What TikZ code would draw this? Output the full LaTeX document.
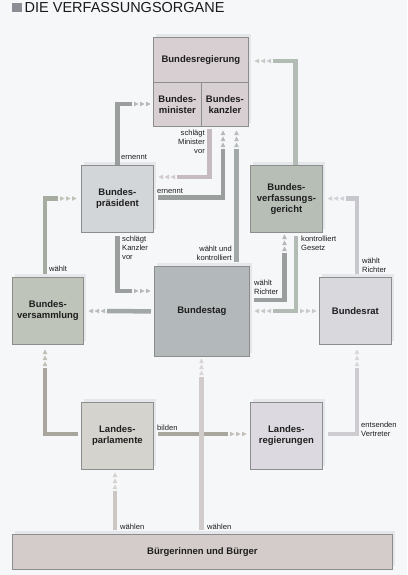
\documentclass[tikz,border=0pt]{standalone}
\usepackage{fontspec}
\setmainfont{Liberation Sans}
\usetikzlibrary{shadows,calc}
\definecolor{bgc}{HTML}{F6F7F9}
\definecolor{shadowc}{HTML}{E6E7EA}
\definecolor{boxline}{HTML}{8C8E8E}
\definecolor{txt}{HTML}{1E1E1E}
\definecolor{titlec}{HTML}{1A1A1A}
\definecolor{sqc}{HTML}{8D8D95}
\definecolor{creg}{HTML}{D8CFD3}
\definecolor{cbp}{HTML}{D3D6D8}
\definecolor{cbvg}{HTML}{B6BEB6}
\definecolor{cbv}{HTML}{BEC4B9}
\definecolor{cbt}{HTML}{B3B8BA}
\definecolor{cbr}{HTML}{D8D8DD}
\definecolor{clp}{HTML}{D5D3CD}
\definecolor{clr}{HTML}{DCDAE0}
\definecolor{cbu}{HTML}{D4CCCB}
\definecolor{cdark}{HTML}{9A9F9E}
\definecolor{tdark}{HTML}{B4B9B8}
\definecolor{cmid}{HTML}{A2A8A8}
\definecolor{tmid}{HTML}{B9BDBD}
\definecolor{cgreen}{HTML}{B3BBB5}
\definecolor{tgreen}{HTML}{C5CBC6}
\definecolor{cpink}{HTML}{C6BBC0}
\definecolor{tpink}{HTML}{D2CACE}
\definecolor{colive}{HTML}{A6AC9F}
\definecolor{tolive}{HTML}{BEC3B9}
\definecolor{cbrown}{HTML}{A9A69D}
\definecolor{tbrown}{HTML}{C2BFB8}
\definecolor{clav}{HTML}{C8C7CE}
\definecolor{tlav}{HTML}{D3D2D8}
\definecolor{clavb}{HTML}{CFCCD1}
\definecolor{tlavb}{HTML}{D8D6DA}
\definecolor{cwarm}{HTML}{CCC7C4}
\definecolor{twarm}{HTML}{D6D2CF}
\definecolor{cwarmb}{HTML}{D1CBCC}
\definecolor{twarmb}{HTML}{D9D4D5}
\tikzset{
  pics/tri/.style={code={\foreach \i in {0,1,2}{\fill[#1] (\i*6,-2.3) -- (\i*6+4.5,0) -- (\i*6,2.3) -- cycle;}}},
  box/.style={draw=boxline, line width=0.8pt, inner sep=1pt, align=center, anchor=north west, text=txt,
    font=\bfseries\fontsize{9.5}{11}\selectfont},
  shadowed/.style={general shadow={fill=shadowc, shadow xshift=3pt, shadow yshift=3pt}},
  bar/.style={line width=4.5pt, line cap=butt, line join=miter},
  lab/.style={font=\fontsize{7.6}{9}\selectfont, inner sep=0pt, text=txt}
}
\begin{document}
\begin{tikzpicture}[x=1pt,y=-1pt]
\useasboundingbox (0,0) rectangle (407,575);
\fill[bgc] (0,0) rectangle (407,575);
% title
\fill[sqc] (12,3) rectangle (22,12.5);
\node[anchor=base west, inner sep=0pt, font=\fontsize{14.5}{16}\selectfont, text=titlec] (title) at (24.5,12.5) {DIE VERFASSUNGSORGANE};
% boxes
\fill[shadowc] (156,34) rectangle (251,123);
\node[box, fill=creg, minimum width=95pt, minimum height=45pt] (reg) at (153,37) {Bundesregierung};
\node[box, fill=creg, minimum width=48pt, minimum height=44pt] (mini) at (153,82) {Bundes-\\minister};
\node[box, fill=creg, minimum width=47pt, minimum height=44pt] (kanz) at (201,82) {Bundes-\\kanzler};
\node[box, shadowed, fill=cbp, minimum width=72pt, minimum height=67pt] (bp) at (81,165) {Bundes-\\präsident};
\node[box, shadowed, fill=cbvg, minimum width=72pt, minimum height=67pt] (bvg) at (250,165) {Bundes-\\verfassungs-\\gericht};
\node[box, shadowed, fill=cbv, minimum width=71pt, minimum height=67pt] (bv) at (12,277) {Bundes-\\versammlung};
\node[box, shadowed, fill=cbt, minimum width=95pt, minimum height=90pt] (bt) at (154,266) {Bundestag};
\node[box, shadowed, fill=cbr, minimum width=72pt, minimum height=67pt] (br) at (319,277) {Bundesrat};
\node[box, shadowed, fill=clp, minimum width=72pt, minimum height=67pt] (lp) at (81,402) {Landes-\\parlamente};
\node[box, shadowed, fill=clr, minimum width=72pt, minimum height=67pt] (lr) at (250,402) {Landes-\\regierungen};
\node[box, shadowed, fill=cbu, minimum width=380pt, minimum height=35pt] (bu) at (12,534) {Bürgerinnen und Bürger};
% connectors
\coordinate (a1) at (132,104);
\draw[bar, draw=cdark] (bp.north) |- (a1);
\pic at ([xshift=2pt]a1) {tri=tdark};
\coordinate (a2) at (273,61);
\draw[bar, draw=cgreen] (295.5,0 |- bvg.north) |- (a2);
\pic[rotate=180] at ([xshift=-2pt]a2) {tri=tgreen};
\coordinate (a3) at (177,177);
\draw[bar, draw=cpink] ([yshift=-2pt]209.5,0 |- kanz.south) |- (a3);
\pic[rotate=180] at ([xshift=-2pt]a3) {tri=tpink};
\coordinate (a4) at (223,149);
\draw[bar, draw=cdark] ([xshift=4pt]bp.east |- 0,197.5) -| (a4);
\pic[rotate=90] at ([yshift=2pt]a4) {tri=tdark};
\coordinate (a5) at (236.5,149);
\draw[bar, draw=cmid] ([yshift=4pt]236.5,0 |- bt.north) -- (a5);
\pic[rotate=90] at ([yshift=2pt]a5) {tri=tmid};
\coordinate (a6) at (132,291);
\draw[bar, draw=cdark] ([yshift=-3pt]bp.south) |- (a6);
\pic at ([xshift=2pt]a6) {tri=tdark};
\coordinate (a7) at (107,311);
\draw[bar, draw=cmid] ([xshift=-3pt]bt.west) -- (a7);
\pic[rotate=180] at ([xshift=-2pt]a7) {tri=tmid};
\coordinate (a8) at (58,198.5);
\draw[bar, draw=colive] ([yshift=3pt]45,0 |- bv.north) |- (a8);
\pic at ([xshift=2pt]a8) {tri=tolive};
\coordinate (a9) at (284.5,253);
\draw[bar, draw=cdark] ([xshift=4pt]bt.east |- 0,300) -| (a9);
\pic[rotate=90] at ([yshift=2pt]a9) {tri=tdark};
\coordinate (a10) at (273,311);
\coordinate (b10) at (300,311);
\draw[bar, draw=cgreen] ([yshift=-3pt]296,0 |- bvg.south) |- (a10);
\pic[rotate=180] at ([xshift=-2pt]a10) {tri=tgreen};
\pic at (b10) {tri=tgreen};
\coordinate (a11) at (346,198.5);
\draw[bar, draw=clav] ([yshift=3pt]357,0 |- br.north) |- (a11);
\pic[rotate=180] at ([xshift=-2pt]a11) {tri=tlav};
\coordinate (a12) at (45,368);
\draw[bar, draw=cbrown] ([xshift=-3pt]lp.west |- 0,434) -| (a12);
\pic[rotate=90] at ([yshift=2pt]a12) {tri=tbrown};
\coordinate (a13) at (228,434);
\draw[bar, draw=cbrown] ([xshift=4pt]lp.east |- 0,434) -- (a13);
\pic at ([xshift=2pt]a13) {tri=tbrown};
\coordinate (a14) at (357,368);
\draw[bar, draw=clavb] ([xshift=5pt]lr.east |- 0,434) -| (a14);
\pic[rotate=90] at ([yshift=2pt]a14) {tri=tlavb};
\coordinate (a15) at (115,491);
\draw[bar, draw=cwarm] ([yshift=4pt]115,0 |- bu.north) -- (a15);
\pic[rotate=90] at ([yshift=2pt]a15) {tri=twarm};
\coordinate (a16) at (201.5,377);
\draw[bar, draw=cwarmb] ([yshift=4pt]201.5,0 |- bu.north) -- (a16);
\pic[rotate=90] at ([yshift=2pt]a16) {tri=twarmb};
% labels
\node[lab, anchor=west] (l1) at (121,157) {ernennt};
\node[lab, anchor=north east, align=right] (l3) at (205,130) {schlägt\\Minister\\vor};
\node[lab, anchor=west] (l4) at (157,191.5) {ernennt};
\node[lab, anchor=north east, align=right] (l5) at (232,245.5) {wählt und\\kontrolliert};
\node[lab, anchor=north west, align=left] (l6) at (122,236) {schlägt\\Kanzler\\vor};
\node[lab, anchor=west] (l8) at (49,269) {wählt};
\node[lab, anchor=north west, align=left] (l9) at (254,280) {wählt\\Richter};
\node[lab, anchor=north west, align=left] (l10) at (301,236) {kontrolliert\\Gesetz};
\node[lab, anchor=north west, align=left] (l11) at (362,258) {wählt\\Richter};
\node[lab, anchor=west] (l13) at (157,428) {bilden};
\node[lab, anchor=north west, align=left] (l14) at (361,422) {entsenden\\Vertreter};
\node[lab, anchor=west] (l15) at (120,527) {wählen};
\node[lab, anchor=west] (l16) at (207,527) {wählen};
\end{tikzpicture}
\end{document}
